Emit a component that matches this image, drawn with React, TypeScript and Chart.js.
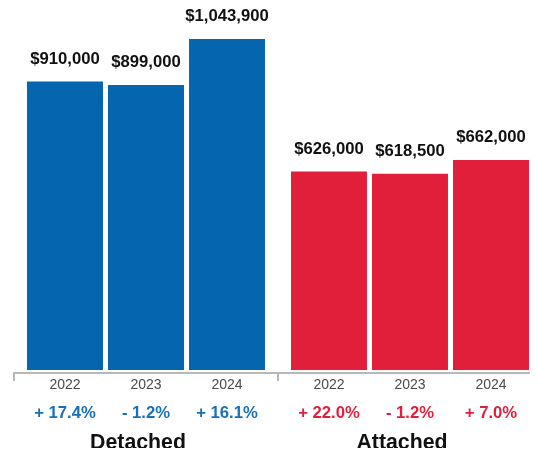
import React, { useEffect, useRef } from "react";
import { Chart, registerables } from "chart.js";

Chart.register(...registerables);

const groups = ["Detached", "Attached"];
const years = ["2022", "2023", "2024"];
const detachedPrices = [910000, 899000, 1043900];
const attachedPrices = [626000, 618500, 662000];
const detachedChanges = ["+ 17.4%", "- 1.2%", "+ 16.1%"];
const attachedChanges = ["+ 22.0%", "- 1.2%", "+ 7.0%"];
const barColors = ["#0565AF", "#E21F3B"];
const changeColors = ["#1770B8", "#E21F3B"];

const FONT = "'Liberation Sans', Arial, Helvetica, sans-serif";

const fmt = (v: number) => "$" + v.toLocaleString("en-US");

const labelPlugin = {
  id: "barTexts",
  afterDatasetsDraw(chart: any) {
    const ctx = chart.ctx;
    const bottom = chart.chartArea.bottom;
    const changes = [detachedChanges, attachedChanges];
    const prices = [detachedPrices, attachedPrices];
    ctx.save();
    ctx.textAlign = "center";
    ctx.textBaseline = "middle";
    chart.data.datasets.forEach((ds: any, di: number) => {
      const meta = chart.getDatasetMeta(di);
      meta.data.forEach((bar: any, gi: number) => {
        ctx.fillStyle = "#111111";
        ctx.font = `bold 16.7px ${FONT}`;
        ctx.fillText(fmt(prices[gi][di]), bar.x, bar.y - 22.5);
        ctx.fillStyle = "#4a4a4a";
        ctx.font = `14px ${FONT}`;
        ctx.fillText(years[di], bar.x, bottom + 12);
        ctx.fillStyle = changeColors[gi];
        ctx.font = `bold 16.7px ${FONT}`;
        ctx.fillText(changes[gi][di], bar.x, bottom + 40);
      });
    });
    ctx.restore();
  },
};

export default function App() {
  const ref = useRef<HTMLCanvasElement | null>(null);
  useEffect(() => {
    if (!ref.current) return;
    const datasets = years.map((y, i) => ({
      label: y,
      data: [detachedPrices[i], attachedPrices[i]],
      backgroundColor: barColors,
      borderWidth: 0,
      categoryPercentage: 0.9205,
      barPercentage: 0.938,
    }));
    const chart = new Chart(ref.current, {
      type: "bar",
      data: { labels: groups, datasets },
      options: {
        animation: false,
        responsive: true,
        maintainAspectRatio: false,
        layout: { padding: { top: 5, left: 14, right: 0, bottom: 0 } },
        plugins: { legend: { display: false }, tooltip: { enabled: false } },
        scales: {
          x: {
            offset: true,
            grid: {
              offset: true,
              drawOnChartArea: false,
              tickLength: 8,
              color: "#b8b8b8",
              lineWidth: 2,
            },
            border: { color: "#b8b8b8", width: 2 },
            ticks: {
              font: { family: FONT, size: 21.3, weight: "bold" },
              color: "#111111",
              padding: 49,
              labelOffset: -8,
            },
            afterFit: (scale: any) => {
              scale.height = 83;
            },
          },
          y: {
            display: false,
            min: -9500,
            max: 1151000,
          },
        },
      },
      plugins: [labelPlugin],
    });
    return () => chart.destroy();
  }, []);
  return (
    <div style={{ margin: -8, width: 538, height: 456, overflow: "hidden" }}>
      <div style={{ width: 542, height: 456, position: "relative" }}>
        <canvas ref={ref} />
      </div>
    </div>
  );
}
